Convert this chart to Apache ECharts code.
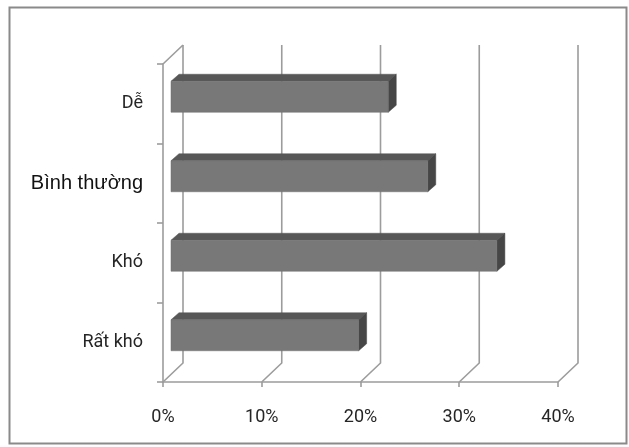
<!DOCTYPE html>
<html>
<head>
<meta charset="utf-8">
<script src="https://cdn.jsdelivr.net/npm/echarts@6/dist/echarts.min.js"></script>
<style>
  html, body { margin: 0; padding: 0; background: #ffffff; }
  #chart { width: 629px; height: 447px; }
</style>
</head>
<body>
<div id="chart"></div>
<script>
// Survey answers, bottom to top on the category axis
const categories = ['Rất khó', 'Khó', 'Bình thường', 'Dễ'];
const shares = [0.19, 0.33, 0.26, 0.22];
const percentTicks = [0, 0.1, 0.2, 0.3, 0.4];

// Depth of the 3D box (pixels toward the back wall)
const DEPTH_X = 20, DEPTH_Y = 19;
// Bar slab sits between these offsets inside the box
const BAR_FRONT = [8, 7], BAR_BACK = [16, 14];
const BAR_H_RATIO = 0.39;

const GRID_COLOR = '#9c9c9c';
const LABEL_FONT = 'Roboto, "Open Sans", sans-serif';

const chart = echarts.init(document.getElementById('chart'));

function wallRender(params, api) {
  const v = api.value(0);
  const band = api.size([0, 1])[1];
  const bottom = api.coord([v, 0])[1] + band / 2;
  const top = api.coord([v, categories.length - 1])[1] - band / 2;
  const x = api.coord([v, 0])[0];
  const children = [{
    type: 'polyline',
    shape: { points: [[x + DEPTH_X, top - DEPTH_Y], [x + DEPTH_X, bottom - DEPTH_Y], [x, bottom]] },
    style: { stroke: GRID_COLOR, lineWidth: 1.6, fill: null }
  }];
  if (params.dataIndex === 0) {
    children.push({
      type: 'line',
      shape: { x1: x, y1: top, x2: x + DEPTH_X, y2: top - DEPTH_Y },
      style: { stroke: GRID_COLOR, lineWidth: 1.6 }
    });
  }
  return { type: 'group', children: children };
}

function barRender(params, api) {
  const v = api.value(0);
  const i = api.value(1);
  const start = api.coord([0, i]);
  const end = api.coord([v, i]);
  const h = api.size([0, 1])[1] * BAR_H_RATIO;
  const fx0 = start[0] + BAR_FRONT[0], fx1 = end[0] + BAR_FRONT[0];
  const fyT = start[1] - BAR_FRONT[1] - h / 2, fyB = start[1] - BAR_FRONT[1] + h / 2;
  const dx = BAR_BACK[0] - BAR_FRONT[0], dy = BAR_BACK[1] - BAR_FRONT[1];
  return {
    type: 'group',
    children: [
      { // top face
        type: 'polygon',
        shape: { points: [[fx0, fyT], [fx0 + dx, fyT - dy], [fx1 + dx, fyT - dy], [fx1, fyT]] },
        style: { fill: '#575757', stroke: '#575757', lineWidth: 0.5 }
      },
      { // right end face
        type: 'polygon',
        shape: { points: [[fx1, fyT], [fx1 + dx, fyT - dy], [fx1 + dx, fyB - dy], [fx1, fyB]] },
        style: { fill: '#464646', stroke: '#464646', lineWidth: 0.5 }
      },
      { // front face
        type: 'rect',
        shape: { x: fx0, y: fyT, width: fx1 - fx0, height: fyB - fyT },
        style: { fill: '#787878', stroke: '#6e6e6e', lineWidth: 0.5 }
      }
    ]
  };
}

chart.setOption({
  animation: false,
  backgroundColor: '#ffffff',
  graphic: [{
    type: 'rect',
    shape: { x: 9.5, y: 7.5, width: 617, height: 436 },
    style: { fill: null, stroke: '#8a8a8a', lineWidth: 2 },
    silent: true
  }],
  grid: { left: 163, top: 64, width: 395, height: 318, containLabel: false },
  xAxis: {
    type: 'value',
    min: 0, max: 0.4, interval: 0.1,
    axisLine: { show: true, lineStyle: { color: GRID_COLOR, width: 1.6 } },
    axisTick: { show: true, length: 5, lineStyle: { color: GRID_COLOR, width: 1.6 } },
    splitLine: { show: false },
    axisLabel: {
      margin: 26,
      color: '#262626',
      fontFamily: LABEL_FONT,
      fontSize: 18,
      formatter: function (v) { return Math.round(v * 100) + '%'; }
    }
  },
  yAxis: {
    type: 'category',
    data: categories,
    axisLine: { show: true, lineStyle: { color: GRID_COLOR, width: 1.6 } },
    axisTick: { show: true, length: 6, lineStyle: { color: GRID_COLOR, width: 1.6 } },
    splitLine: { show: false },
    axisLabel: {
      margin: 20,
      color: '#262626',
      fontFamily: LABEL_FONT,
      fontSize: 18,
      formatter: function (v) { return v === 'Bình thường' ? '{wide|' + v + '}' : v; },
      rich: {
        wide: { fontFamily: '"Liberation Sans", Arial, sans-serif', fontSize: 20, color: '#111111' }
      }
    }
  },
  series: [
    {
      type: 'custom',
      name: 'walls',
      renderItem: wallRender,
      data: percentTicks.map(function (t) { return [t, 0]; }),
      silent: true,
      z: 1
    },
    {
      type: 'custom',
      name: 'shares',
      renderItem: barRender,
      data: shares.map(function (s, i) { return [s, i]; }),
      z: 2
    }
  ]
});
</script>
</body>
</html>
